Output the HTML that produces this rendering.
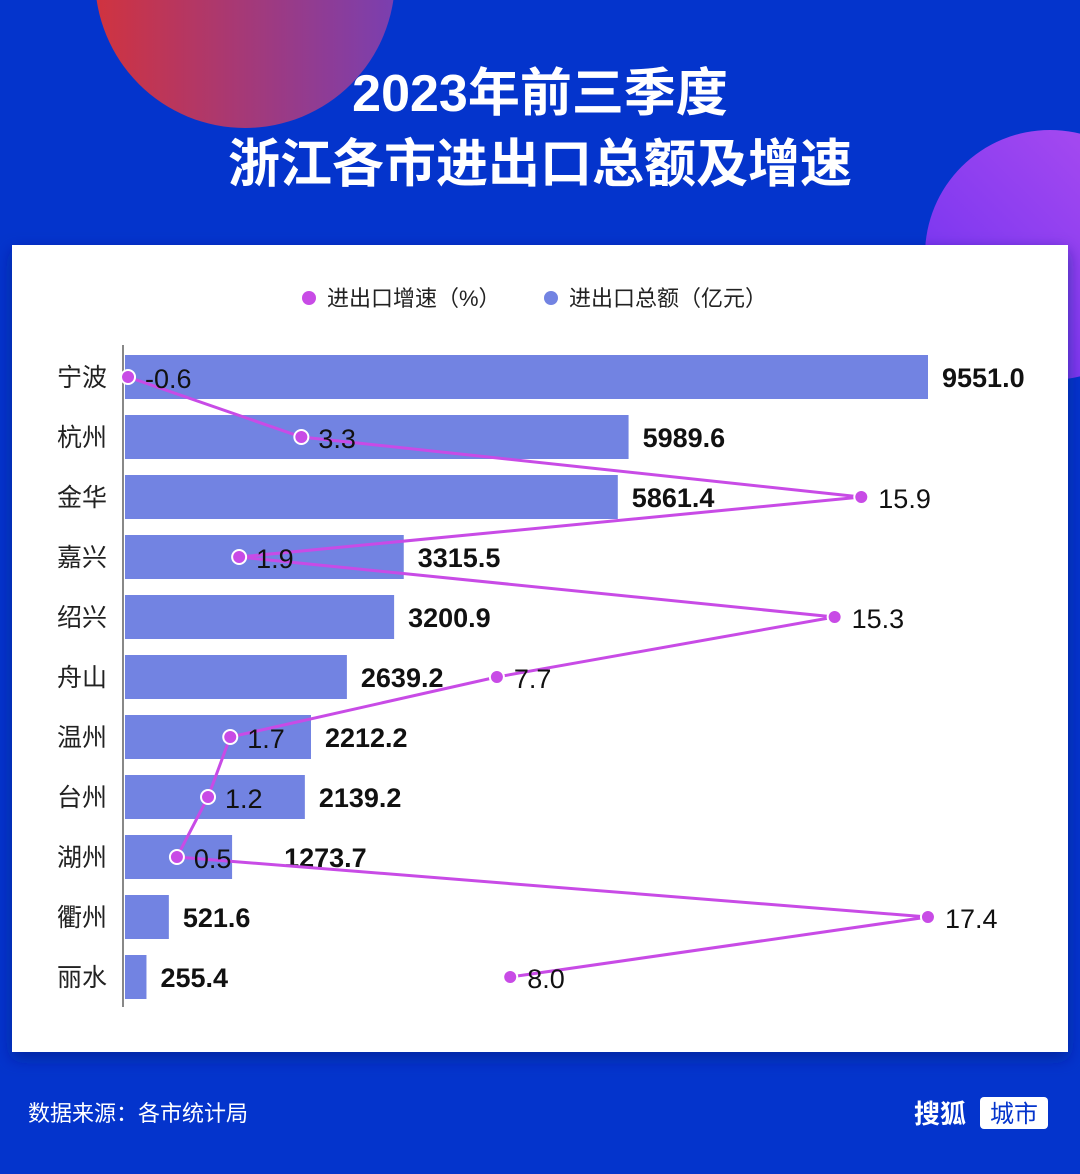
<!DOCTYPE html>
<html><head><meta charset="utf-8"><style>
body{margin:0;width:1080px;height:1169px;overflow:hidden;background:#0434cc;font-family:"Liberation Sans","Noto Sans CJK SC",sans-serif;}
</style></head><body>
<svg width="1080" height="1169" xmlns="http://www.w3.org/2000/svg">
<defs>
<linearGradient id="g1" x1="0" y1="0" x2="1" y2="0"><stop offset="0" stop-color="#d0333f"/><stop offset="1" stop-color="#7a3fb0"/></linearGradient>
<linearGradient id="g2" x1="0" y1="1" x2="1" y2="0"><stop offset="0" stop-color="#6a2ff0"/><stop offset="1" stop-color="#b24ff0"/></linearGradient>
<filter id="sh" x="-5%" y="-5%" width="110%" height="115%"><feDropShadow dx="0" dy="6" stdDeviation="8" flood-color="#001a80" flood-opacity="0.6"/></filter>
</defs>
<rect width="1080" height="1169" fill="#0434cc"/>
<circle cx="245" cy="-22" r="150" fill="url(#g1)"/>
<circle cx="1050" cy="255" r="125" fill="url(#g2)"/>
<text x="540" y="111" text-anchor="middle" fill="#fff" font-size="52" font-weight="bold">2023年前三季度</text>
<text x="540" y="182" text-anchor="middle" fill="#fff" font-size="52" font-weight="bold">浙江各市进出口总额及增速</text>
<rect x="12" y="245" width="1056" height="807" fill="#fff" filter="url(#sh)"/>
<g>
<circle cx="309" cy="298" r="7" fill="#c84be6"/>
<text x="327" y="306" font-size="22" fill="#222">进出口增速（%）</text>
<circle cx="551" cy="298" r="7" fill="#7283e2"/>
<text x="569" y="306" font-size="22" fill="#222">进出口总额（亿元）</text>
</g>
<line x1="123" y1="345" x2="123" y2="1007" stroke="#888" stroke-width="2"/>
<g id="chart"></g>
<text x="28" y="1121" font-size="22" fill="#fff">数据来源：各市统计局</text>
<text x="914" y="1123" font-size="26" font-weight="bold" fill="#fff">搜狐</text>
<rect x="980" y="1097" width="68" height="32" rx="4" fill="#fff"/>
<text x="1014" y="1122" text-anchor="middle" font-size="24" fill="#0434cc">城市</text>
</svg>
<script>
const cities=["宁波","杭州","金华","嘉兴","绍兴","舟山","温州","台州","湖州","衢州","丽水"];
const totals=[9551.0,5989.6,5861.4,3315.5,3200.9,2639.2,2212.2,2139.2,1273.7,521.6,255.4];
const growth=[-0.6,3.3,15.9,1.9,15.3,7.7,1.7,1.2,0.5,17.4,8.0];
const NS="http://www.w3.org/2000/svg";
const g=document.getElementById('chart');
function xb(v){return 125+v*(803/9551);}
function xl(v){return 154.7+v*44.44;}
function yr(i){return 377+i*60;}
function mk(t,a){const e=document.createElementNS(NS,t);for(const k in a)e.setAttribute(k,a[k]);g.appendChild(e);return e;}
cities.forEach((c,i)=>{
  const t=mk('text',{x:57,y:yr(i)+9,'font-size':25,fill:'#222'});t.textContent=c;
  
  
  const b=mk('rect',{x:125,y:yr(i)-22,width:xb(totals[i])-125,height:44,fill:'#7283e2'});
  
  
  const off=(i===8)?52:14;
  const v=mk('text',{x:xb(totals[i])+off,y:yr(i)+10,'font-size':27,'font-weight':'bold',fill:'#111'});v.textContent=totals[i].toFixed(1);
  
  
});
const pts=growth.map((v,i)=>xl(v)+','+yr(i)).join(' ');
const pl=mk('polyline',{points:pts,fill:'none',stroke:'#c84be6','stroke-width':3});


growth.forEach((v,i)=>{
  const p=mk('circle',{cx:xl(v),cy:yr(i),r:7,fill:'#c84be6',stroke:'#fff','stroke-width':2});
  
  
  const t=mk('text',{x:xl(v)+17,y:yr(i)+11,'font-size':27,fill:'#111'});t.textContent=v.toFixed(1);
  
  
});
</script>
</body></html>
